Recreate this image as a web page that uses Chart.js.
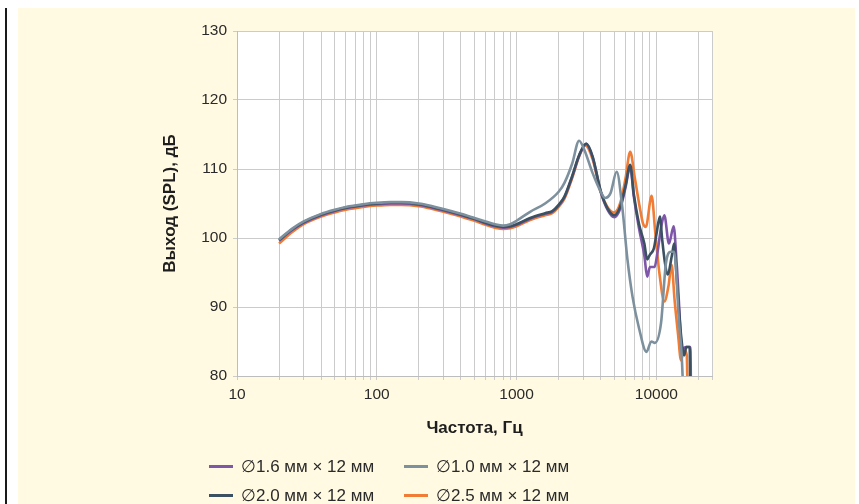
<!DOCTYPE html>
<html>
<head>
<meta charset="utf-8">
<script src="https://cdn.jsdelivr.net/npm/chart.js@4.4.1/dist/chart.umd.min.js"></script>
<style>
  html, body { margin: 0; padding: 0; background: #ffffff; width: 859px; height: 504px; overflow: hidden; }
  #panel { position: absolute; left: 18px; top: 8px; width: 837px; height: 496px; background: #fffae1; }
  #bar { position: absolute; left: 5px; top: 8px; width: 2px; height: 496px; background: #1a1a1a; }
  #chart { position: absolute; left: 0; top: 0; }
  #legend { position: absolute; left: 209px; top: 452px; display: grid; grid-template-columns: 195px 195px; grid-auto-rows: 29px;
            font-family: 'Liberation Sans', Arial, sans-serif; font-size: 17px; color: #2a2a2a; }
  .item { display: flex; align-items: center; white-space: nowrap; }
  .swatch { width: 24px; height: 3px; margin-right: 8px; }
</style>
</head>
<body>
<div id="panel"></div>
<div id="bar"></div>
<canvas id="chart" width="859" height="504"></canvas>
<div id="legend"></div>
<script>
// ---- data ----
const seriesNames = ['\u22051.6 мм \u00d7 12 мм', '\u22051.0 мм \u00d7 12 мм', '\u22052.0 мм \u00d7 12 мм', '\u22052.5 мм \u00d7 12 мм'];
const seriesColors = ['#7e57a8', '#7d909d', '#3b5161', '#f07c35'];

const freq16 = [20,25,30,40,50,60,80,100,125,150,200,250,300,400,500,600,700,800,900,1000,1250,1600,1800,2000,2200,2500,2800,3150,3500,4000,4500,5000,5500,6000,6500,6900,7500,8200,8600,9000,9700,10200,10800,11400,12300,13300,14000,15400,16300,17500,17800];
const spl16  = [99.6,101.2,102.2,103.3,103.9,104.3,104.7,104.9,105.0,105.0,104.8,104.4,104.0,103.3,102.7,102.1,101.7,101.5,101.6,101.9,102.8,103.5,103.8,104.7,105.9,108.9,111.9,113.6,111.7,106.7,104.0,103.0,104.2,107.2,110.3,106.0,101.5,97.5,94.4,95.8,95.8,98.0,101.5,103.3,99.2,101.7,96,84,84.2,84.2,70];

const freq10 = [20,25,30,40,50,60,80,100,125,150,200,250,300,400,500,600,700,800,900,1000,1250,1600,2000,2200,2500,2800,3050,3500,4000,4300,4700,5200,5700,6200,6750,7500,8500,9200,9750,10800,11700,12700,13400,14500,15400,15800];
const spl10  = [99.8,101.4,102.4,103.5,104.1,104.5,104.9,105.1,105.2,105.2,105.0,104.6,104.2,103.5,102.9,102.4,102.0,101.8,102.0,102.5,103.8,105.0,106.7,108.0,110.8,114.1,112.8,109.4,106.7,105.8,106.5,109.6,104.5,97,91.5,87,83.5,85,84.8,87.7,96.3,98,98,88,80,70];

const freq20 = [20,25,30,40,50,60,80,100,125,150,200,250,300,400,500,600,700,800,900,1000,1250,1600,1800,2000,2200,2500,2800,3150,3500,4000,4500,5000,5500,6000,6500,6900,7500,8200,8600,9000,9600,10000,10600,11000,11500,12000,13000,13400,14000,15000,15800,16400,17300,17600];
const spl20  = [99.7,101.3,102.3,103.4,104.0,104.4,104.8,105.0,105.1,105.1,104.9,104.5,104.1,103.4,102.8,102.2,101.8,101.6,101.7,102.0,102.9,103.6,103.9,104.8,106.0,109.0,112.0,113.7,111.8,106.8,104.2,103.3,104.5,107.5,110.6,106.3,102.1,99.2,96.9,97.6,98.5,100.5,103.1,99.8,96.5,94.7,97.8,99.2,94,86,83,84.2,84.2,70];

const freq25 = [20,25,30,40,50,60,80,100,125,150,200,250,300,400,500,600,700,800,900,1000,1250,1600,1800,2000,2200,2500,2800,3100,3500,4000,4500,5000,5500,6000,6500,7000,7600,8000,8400,9250,9800,10500,11400,12200,12850,13500,14300,15000,15850,16500,16900];
const spl25  = [99.2,100.9,102.0,103.1,103.7,104.1,104.5,104.7,104.8,104.8,104.6,104.2,103.8,103.1,102.5,101.9,101.5,101.3,101.4,101.7,102.6,103.3,103.6,104.5,105.7,108.7,111.8,113.4,111.4,106.6,104.4,103.7,105.0,108.5,112.5,108.8,104.5,102.2,101.6,106.1,101,95,90.8,93,96.1,91,86,82.3,83.8,83,70];

const xGridValues = [10,20,30,40,50,60,70,80,90,100,200,300,400,500,600,700,800,900,1000,2000,3000,4000,5000,6000,7000,8000,9000,10000,20000,25000];
const xTickLabels = [10, 100, 1000, 10000];
const yTicks = [80, 90, 100, 110, 120, 130];
const xTitle = 'Частота, Гц';
const yTitle = 'Выход (SPL), дБ';

// ---- build chart ----
function pts(fs, vs) { return fs.map((f, i) => ({ x: f, y: vs[i] })); }

const seriesData = [pts(freq16, spl16), pts(freq10, spl10), pts(freq20, spl20), pts(freq25, spl25)];
const drawOrder = [2, 0, 1, 3]; // lower = drawn on top

const datasets = seriesNames.map((name, i) => ({
  label: name,
  data: seriesData[i],
  borderColor: seriesColors[i],
  backgroundColor: seriesColors[i],
  borderWidth: 2.6,
  pointRadius: 0,
  fill: false,
  cubicInterpolationMode: 'monotone',
  clip: 0,
  order: drawOrder[i]
}));

const plotBg = {
  id: 'plotBg',
  beforeDraw(chart) {
    const { ctx, chartArea: a } = chart;
    ctx.save();
    ctx.fillStyle = '#ffffff';
    ctx.fillRect(a.left, a.top, a.right - a.left, a.bottom - a.top);
    ctx.restore();
  }
};

const gridColor = '#cbcbcb';
const tickFont = { family: "'Liberation Sans', Arial, sans-serif", size: 15.5 };
const titleFont = { family: "'Liberation Sans', Arial, sans-serif", size: 17, weight: 'bold', lineHeight: 1.2 };

new Chart(document.getElementById('chart'), {
  type: 'line',
  data: { datasets },
  options: {
    responsive: false,
    devicePixelRatio: 1,
    animation: false,
    layout: { padding: { left: 150, right: 147, top: 31, bottom: 65 } },
    plugins: { legend: { display: false }, tooltip: { enabled: false } },
    scales: {
      x: {
        type: 'logarithmic',
        min: 10,
        max: 25000,
        afterBuildTicks(scale) { scale.ticks = xGridValues.map(v => ({ value: v })); },
        afterFit(scale) { scale.height = 63; },
        ticks: {
          autoSkip: false, maxRotation: 0, minRotation: 0, padding: 5,
          color: '#2a2a2a', font: tickFont,
          callback: (v) => xTickLabels.includes(v) ? String(v) : ''
        },
        grid: { color: gridColor, lineWidth: 1, tickLength: 4, tickColor: gridColor },
        border: { color: '#bdbdbd', width: 1 },
        title: { display: true, text: xTitle, color: '#1e1e1e', font: titleFont, padding: { top: 0, bottom: 0 } }
      },
      y: {
        min: 80,
        max: 130,
        afterBuildTicks(scale) { scale.ticks = yTicks.map(v => ({ value: v })); },
        afterFit(scale) { scale.width = 87; },
        ticks: { padding: 6, color: '#2a2a2a', font: tickFont },
        grid: { color: gridColor, lineWidth: 1, tickLength: 4, tickColor: gridColor },
        border: { color: '#bdbdbd', width: 1 },
        title: { display: true, text: yTitle, color: '#1e1e1e', font: titleFont, padding: { top: 10, bottom: 0 } }
      }
    }
  },
  plugins: [plotBg]
});

// HTML legend built from the same series arrays
const legend = document.getElementById('legend');
seriesNames.forEach((name, i) => {
  const item = document.createElement('div');
  item.className = 'item';
  const sw = document.createElement('span');
  sw.className = 'swatch';
  sw.style.background = seriesColors[i];
  const tx = document.createElement('span');
  tx.textContent = name;
  item.appendChild(sw);
  item.appendChild(tx);
  legend.appendChild(item);
});
</script>
</body>
</html>
